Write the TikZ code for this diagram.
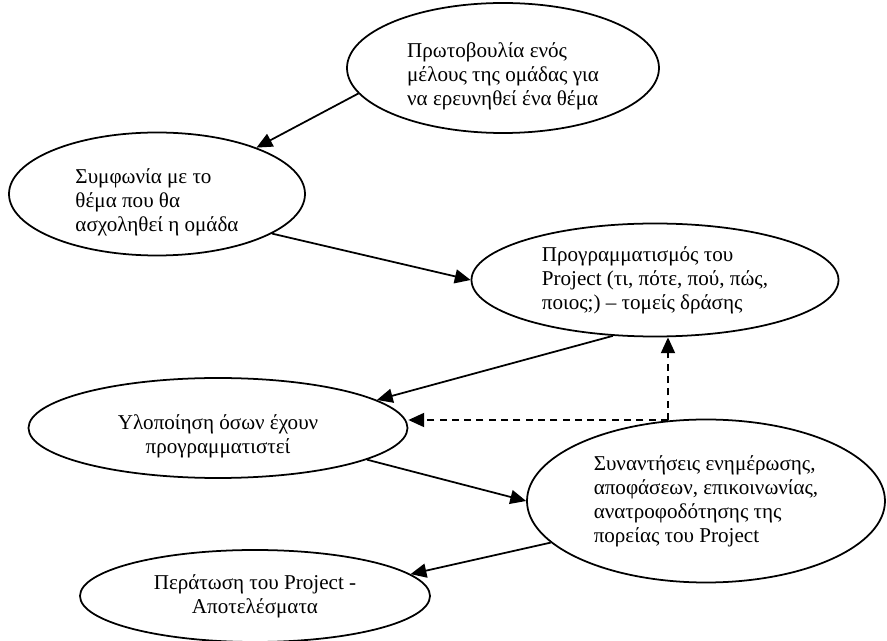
\documentclass[tikz,border=0pt]{standalone}
\usepackage{fontspec}
\setmainfont{Liberation Serif}
\usetikzlibrary{shapes.geometric,arrows.meta}
\newcommand\lowtop{\rule{0pt}{18pt}}
\begin{document}
\begin{tikzpicture}[line width=1pt,
    bubble/.style={draw,ellipse,inner sep=0pt,font=\fontsize{12}{13.7}\selectfont},
    arr/.style={-{Triangle[length=9pt,width=8pt]}},
    fb/.style={arr,dash pattern=on 4pt off 3pt}]
\useasboundingbox (0,0) rectangle (17.74,-12.82);
\node[bubble,minimum width=6.24cm,minimum height=2.6cm,align=left] (idea) at (10.06,-1.36) {\lowtop Πρωτοβουλία ενός\\μέλους της ομάδας για\\να ερευνηθεί ένα θέμα};
\node[bubble,minimum width=5.92cm,minimum height=2.46cm,align=left] (agree) at (3.14,-3.88) {\lowtop Συμφωνία με το\\θέμα που θα\\ασχοληθεί η ομάδα};
\node[bubble,minimum width=7.34cm,minimum height=2.26cm,align=left] (plan) at (13.1,-5.6) {Προγραμματισμός του\\Project (τι, πότε, πού, πώς,\\ποιος;) – τομείς δράσης};
\node[bubble,minimum width=7.58cm,minimum height=2cm,align=center] (impl) at (4.36,-8.56) {\lowtop Υλοποίηση όσων έχουν\\προγραμματιστεί};
\node[bubble,minimum width=7.16cm,minimum height=3.26cm,align=left] (meet) at (14.12,-10.02) {Συναντήσεις ενημέρωσης,\\αποφάσεων, επικοινωνίας,\\ανατροφοδότησης της\\πορείας του Project};
\node[bubble,minimum width=7cm,minimum height=1.84cm,align=center] (done) at (5.1,-11.92) {Περάτωση του Project -\\Αποτελέσματα};
% main flow
\draw[arr] (idea.190) -- (agree.25);
\draw[arr] (agree.-19) -- (plan.west);
\draw[arr] (plan.233) -- (impl.10);
\draw[arr] (impl.-12) -- (meet.west);
\draw[arr] (meet.195) -- (done.8);
% feedback
\coordinate (fork) at (13.36,-8.4);
\draw[fb] (fork) -- (fork |- plan.south);
\draw[fb] (fork) -- (fork -| impl.east);
\end{tikzpicture}
\end{document}
